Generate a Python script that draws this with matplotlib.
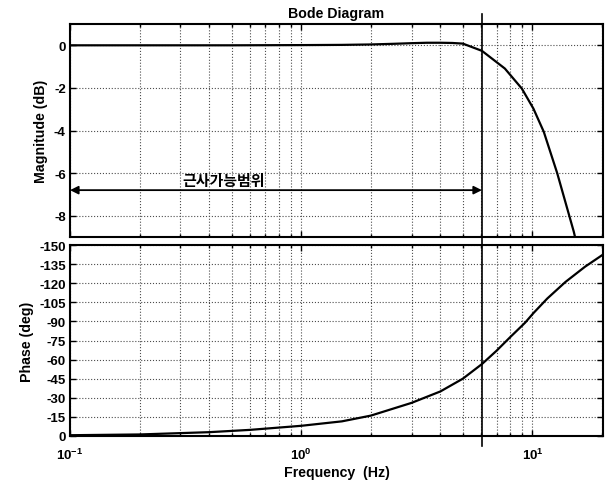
import matplotlib
matplotlib.use("Agg")
import matplotlib.pyplot as plt
from matplotlib.ticker import LogLocator, NullFormatter, FixedLocator
from matplotlib.lines import Line2D
import matplotlib.transforms as mtransforms

plt.rcParams['font.family'] = ['Liberation Sans', 'DejaVu Sans']
plt.rcParams['font.weight'] = 'bold'
plt.rcParams['axes.unicode_minus'] = False
plt.rcParams['mathtext.fontset'] = 'custom'
plt.rcParams['mathtext.rm'] = 'Liberation Sans:bold'
plt.rcParams['mathtext.bf'] = 'Liberation Sans:bold'
plt.rcParams['mathtext.it'] = 'Liberation Sans:bold'

# Magnitude response (Hz, dB)
mag_freq = [0.1, 0.5, 1.0, 1.5, 2.0, 2.5, 3.0, 3.5, 4.0, 4.5, 5.0, 6.05,
            7.6, 9.0, 10.1, 11.2, 12.8, 15.1, 15.6]
mag_db = [0.0, 0.0, 0.01, 0.02, 0.04, 0.07, 0.10, 0.12, 0.12, 0.11, 0.08,
          -0.26, -1.09, -2.03, -2.97, -4.06, -6.0, -8.75, -9.4]

# Phase response (Hz, deg)
ph_freq = [0.1, 0.2, 0.4, 0.6, 1.0, 1.5, 2.0, 3.0, 4.0, 5.0, 6.05, 7.0,
           8.0, 9.3, 10.1, 11.6, 13.9, 16.9, 20.2]
ph_deg = [-0.6, -1.2, -3.0, -4.8, -8.0, -11.5, -16.0, -26.0, -35.0, -45.0,
          -56.5, -67.0, -77.5, -89.0, -96.5, -108.0, -121.0, -133.0, -142.5]

# Limit of the approximation range
f_limit = 6.05
arrow_level = -6.8
range_label = '근사가능범위'
range_label_x = 0.46

mag_ticks = [0, -2, -4, -6, -8]
phase_ticks = [-150, -135, -120, -105, -90, -75, -60, -45, -30, -15, 0]
freq_ticks = [0.1, 1, 10]
freq_labels = [r'$10^{-1}$', r'$10^{0}$', r'$10^{1}$']

fig = plt.figure(figsize=(6.11, 4.81), dpi=100)
ax1 = fig.add_axes([0.1146, 0.5052, 0.8723, 0.4428])
ax2 = fig.add_axes([0.1146, 0.0915, 0.8723, 0.397])

for ax in (ax1, ax2):
    ax.set_xscale('log')
    ax.set_xlim(0.1, 20.2)
    ax.xaxis.set_major_locator(FixedLocator(freq_ticks))
    ax.xaxis.set_minor_locator(LogLocator(base=10, subs=range(2, 10)))
    ax.xaxis.set_minor_formatter(NullFormatter())
    ax.grid(True, which='both', axis='x', linestyle=':', linewidth=0.8, color='0.3')
    ax.grid(True, which='major', axis='y', linestyle=':', linewidth=0.8, color='0.3')
    ax.tick_params(which='both', direction='in', top=True, right=True,
                   labelsize=9.5, width=1.0)
    ax.tick_params(which='major', length=4)
    ax.tick_params(which='minor', length=2.5)
    ax.tick_params(axis='y', pad=3)
    for s in ax.spines.values():
        s.set_linewidth(1.5)

# Magnitude
ax1.plot(mag_freq, mag_db, color='black', linewidth=1.6)
ax1.set_ylim(-9, 1)
ax1.set_yticks(mag_ticks)
ax1.set_yticklabels([str(v) for v in mag_ticks])
ax1.set_xticklabels([])
ax1.set_ylabel('Magnitude (dB)', fontsize=10.2, fontweight='bold')
ax1.set_title('Bode Diagram', fontsize=10.2, fontweight='bold', pad=5)

ax1.annotate('', xy=(0.1, arrow_level), xytext=(f_limit, arrow_level),
             arrowprops=dict(arrowstyle='<|-|>', color='black', lw=1.3,
                             mutation_scale=12, shrinkA=0, shrinkB=0),
             annotation_clip=False)
ax1.text(range_label_x, arrow_level + 0.47, range_label, ha='center', va='center',
         fontsize=10.8, fontweight='bold', family=['Noto Sans CJK KR', 'DejaVu Sans'])

# Phase
ax2.plot(ph_freq, ph_deg, color='black', linewidth=1.6)
ax2.set_ylim(0, -150)
ax2.set_yticks(phase_ticks)
ax2.set_yticklabels([str(v) for v in phase_ticks])
ax2.set_xticklabels(freq_labels)
ax2.tick_params(axis='x', pad=8)
ax2.set_ylabel('Phase (deg)', fontsize=10.2, fontweight='bold')
ax2.set_xlabel('Frequency  (Hz)', fontsize=10.2, fontweight='bold', labelpad=2)

# Vertical marker through both panels
trans = mtransforms.blended_transform_factory(ax2.transData, fig.transFigure)
fig.add_artist(Line2D([f_limit, f_limit], [0.071, 0.969], transform=trans,
                      color='black', linewidth=1.2))

fig.savefig('out.png', dpi=100)
